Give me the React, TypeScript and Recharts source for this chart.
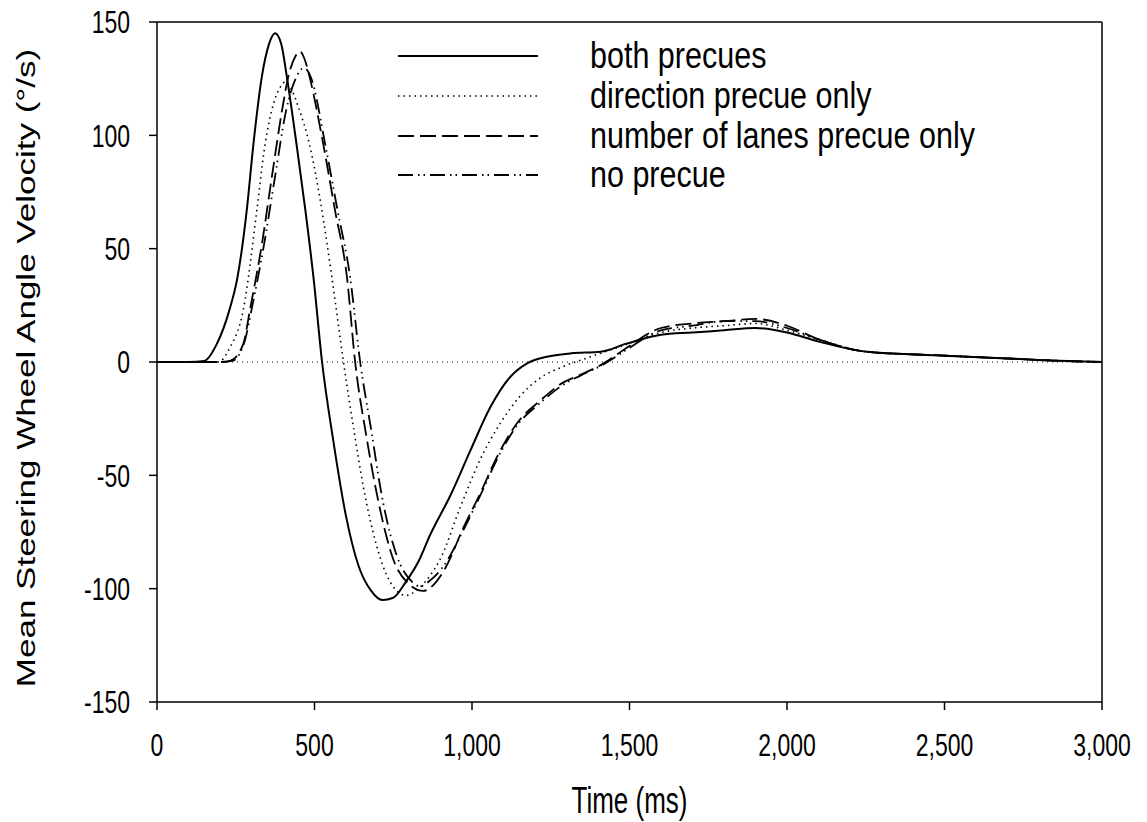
import React from 'react'
import {
  LineChart,
  Line,
  XAxis,
  YAxis,
  ReferenceLine,
} from 'recharts'

// time (ms) and mean steering wheel angle velocity (deg/s)
const bothT = [0, 100, 150, 190, 230, 255, 285, 306, 333, 355, 375, 395, 412, 443, 471, 497, 524, 560, 600, 640, 680, 715, 750, 790, 830, 868, 931, 995, 1058, 1122, 1175, 1238, 1312, 1408, 1493, 1600, 1700, 1800, 1900, 2000, 2100, 2255, 2467, 2679, 2891, 3000]
const bothV = [0, 0, 0.5, 8, 23, 37, 67, 96, 126, 140, 145, 140, 126, 96, 67, 37, 0, -35, -68, -90, -101, -105, -104, -97, -88, -76, -59, -39, -20, -6.5, -0.6, 2.3, 3.8, 4.5, 8.2, 12, 13, 14, 15, 13, 9, 4.5, 3, 1.7, 0.4, 0]

const directionT = [0, 150, 195, 230, 274, 317, 343, 370, 395, 407, 420, 450, 484, 520, 555, 592, 625, 655, 695, 740, 790, 830, 868, 899, 963, 1026, 1090, 1153, 1217, 1290, 1376, 1471, 1600, 1700, 1800, 1900, 2000, 2100, 2255, 2467, 2679, 2891, 3000]
const directionV = [0, 0, 0, 6, 23, 67, 96, 114, 122, 123.6, 122, 112, 96, 70, 37.5, 0, -30, -55, -80, -97, -103, -100, -94, -87, -64, -43, -27, -15, -7, -2, 2.3, 6.8, 13, 15, 16, 17, 14, 10, 4.5, 3, 1.7, 0.4, 0]

const lanesT = [0, 200, 232, 274, 295, 333, 365, 397, 417, 440, 454, 470, 484, 528, 565, 603, 629, 665, 705, 750, 800, 845, 880, 915, 973, 1026, 1079, 1143, 1217, 1290, 1344, 1418, 1481, 1600, 1700, 1800, 1900, 2000, 2100, 2255, 2467, 2679, 2891, 3000]
const lanesV = [0, 0, 0.5, 8, 23, 52, 82, 111, 126, 135, 137, 133, 126, 96, 67, 37.5, 0, -33, -63, -87, -98, -101, -98, -91, -73, -58, -42, -27, -17, -9, -5.7, -0.6, 5.3, 15, 17, 18, 19, 16, 10, 4.5, 3, 1.7, 0.4, 0]

const noneT = [0, 200, 240, 280, 300, 340, 375, 410, 440, 467, 490, 534, 573, 613, 645, 680, 715, 760, 810, 835, 870, 910, 973, 1026, 1079, 1143, 1217, 1290, 1344, 1418, 1481, 1600, 1700, 1800, 1900, 2000, 2100, 2255, 2467, 2679, 2891, 3000]
const noneV = [0, 0, 0.5, 10, 23, 52, 82, 111, 125, 129.7, 125, 96, 67, 37.5, 0, -30, -60, -85, -97, -99, -96, -90, -74, -59, -43, -28, -18, -10, -6, -1, 4.5, 14, 16, 18, 18, 15, 10, 4.5, 3, 1.7, 0.4, 0]

const xTicks = [0, 500, 1000, 1500, 2000, 2500, 3000]
const yTicks = [-150, -100, -50, 0, 50, 100, 150]

const zip = (t: number[], v: number[]) => t.map((x, i) => ({ t: x, v: v[i] }))

const series = [
  { name: 'both precues', data: zip(bothT, bothV), dash: undefined, width: 2 },
  { name: 'direction precue only', data: zip(directionT, directionV), dash: '1.5 4', width: 1.6 },
  { name: 'number of lanes precue only', data: zip(lanesT, lanesV), dash: '16 6', width: 1.8 },
  { name: 'no precue', data: zip(noneT, noneV), dash: '15 5 1.5 4 1.5 5', width: 1.8 },
]

const font = '"Liberation Sans", Arial, sans-serif'
const STRETCH = 1.4 // the original text is drawn tall and narrow

const XTick = (props: any) => {
  const { x, y, payload } = props
  return (
    <text
      transform={`translate(${x},${y}) scale(1,${STRETCH})`}
      y={33}
      textAnchor="middle"
      fill="#000"
      fontSize={23}
      fontFamily={font}
    >
      {Number(payload.value).toLocaleString('en-US')}
    </text>
  )
}

const YTick = (props: any) => {
  const { x, y, payload } = props
  return (
    <text
      transform={`translate(${x},${y}) scale(1,${STRETCH})`}
      y={8.2}
      textAnchor="end"
      fill="#000"
      fontSize={23}
      fontFamily={font}
    >
      {payload.value}
    </text>
  )
}

const XTitle = (props: any) => {
  const vb = props.viewBox
  return (
    <text
      transform={`translate(${vb.x + vb.width / 2},${vb.y + 111}) scale(1,${STRETCH})`}
      textAnchor="middle"
      fill="#000"
      fontSize={26}
      fontFamily={font}
    >
      Time (ms)
    </text>
  )
}

const YTitle = (props: any) => {
  const vb = props.viewBox
  return (
    <text
      transform={`translate(35,${vb.y + vb.height / 2 + 6}) rotate(-90) scale(${STRETCH},1)`}
      textAnchor="middle"
      fill="#000"
      fontSize={25}
      fontFamily={font}
    >
      Mean Steering Wheel Angle Velocity (°/s)
    </text>
  )
}

const legendRowY = [56, 96, 136, 175]

export default function App() {
  return (
    <div style={{ position: 'absolute', left: 0, top: 0, width: 1147, height: 822, background: '#fff' }}>
      <LineChart width={1147} height={822} margin={{ top: 22, right: 45, bottom: 0, left: 0 }}>
        <XAxis
          type="number"
          dataKey="t"
          domain={[0, 3000]}
          ticks={xTicks}
          allowDuplicatedCategory={false}
          height={120}
          tickSize={8}
          tickMargin={0}
          stroke="#000"
          strokeWidth={1.5}
          tick={<XTick />}
          label={<XTitle />}
        />
        <YAxis
          type="number"
          dataKey="v"
          domain={[-150, 150]}
          ticks={yTicks}
          width={157}
          tickSize={8}
          tickMargin={19}
          stroke="#000"
          strokeWidth={1.5}
          tick={<YTick />}
          label={<YTitle />}
        />
        <ReferenceLine y={150} stroke="#000" strokeWidth={1.5} />
        <ReferenceLine x={3000} stroke="#000" strokeWidth={1.5} />
        <ReferenceLine y={0} stroke="#000" strokeWidth={1} strokeDasharray="1 4" />
        {series.map((s) => (
          <Line
            key={s.name}
            data={s.data}
            dataKey="v"
            name={s.name}
            type="monotone"
            stroke="#000"
            strokeWidth={s.width}
            strokeDasharray={s.dash}
            dot={false}
            activeDot={false}
            isAnimationActive={false}
          />
        ))}
      </LineChart>
      <svg width={1147} height={200} style={{ position: 'absolute', left: 0, top: 0, pointerEvents: 'none' }}>
        {series.map((s, i) => (
          <g key={s.name}>
            <line
              x1={398}
              x2={538}
              y1={legendRowY[i]}
              y2={legendRowY[i]}
              stroke="#000"
              strokeWidth={s.width}
              strokeDasharray={s.dash}
            />
            <text
              transform={`translate(590,${legendRowY[i] + 12}) scale(1.09,1.33)`}
              fill="#000"
              fontSize={28}
              fontFamily={font}
            >
              {s.name}
            </text>
          </g>
        ))}
      </svg>
    </div>
  )
}
